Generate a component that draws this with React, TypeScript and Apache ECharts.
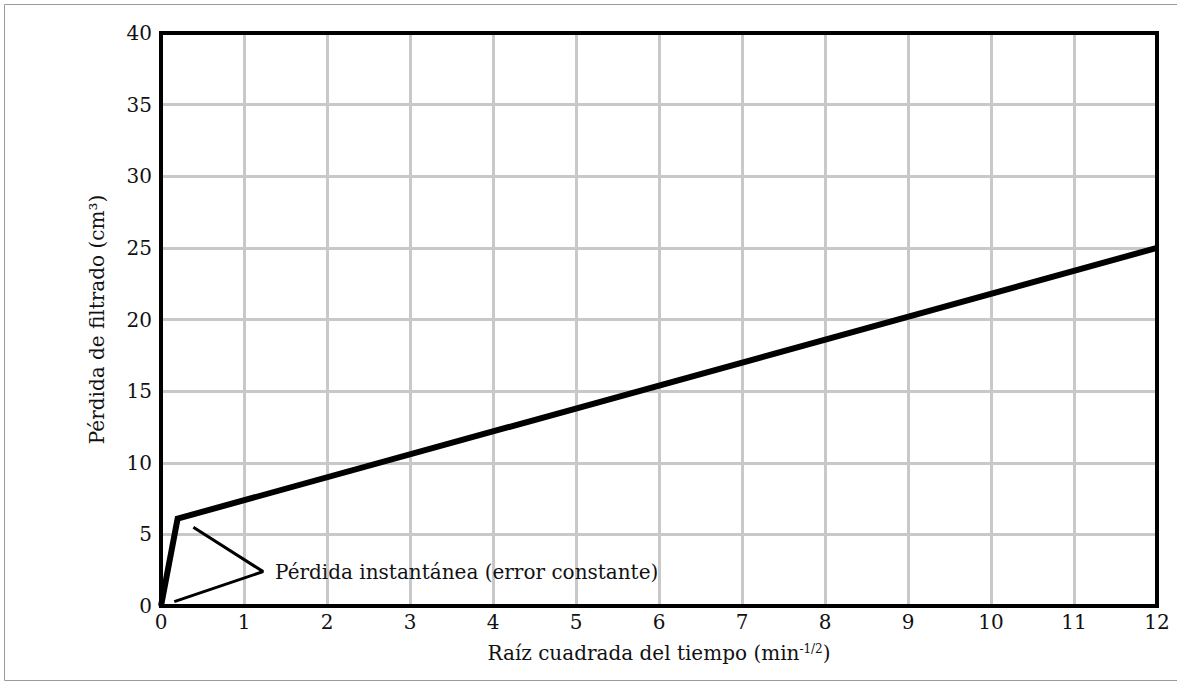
import React, { useEffect, useRef } from "react";
import * as echarts from "echarts";

const xTicks = [0, 1, 2, 3, 4, 5, 6, 7, 8, 9, 10, 11, 12];
const yTicks = [0, 5, 10, 15, 20, 25, 30, 35, 40];
// main filtrate curve: [sqrt(time), filtrate volume]
const filtrateLine: [number, number][] = [
  [0, 0],
  [0.2, 6.1],
  [12, 25],
];
// annotation pointer (V shape)
const pointerLine: [number, number][] = [
  [0.39, 5.5],
  [1.23, 2.4],
  [0.16, 0.3],
];
const annotationText = "Pérdida instantánea (error constante)";
const annotationAnchor: [number, number][] = [[1.23, 2.4]];

const FONT = "DejaVu Serif";
const TXT = "#111";

export default function App() {
  const ref = useRef<HTMLDivElement>(null);
  useEffect(() => {
    if (!ref.current) return;
    const chart = echarts.init(ref.current, undefined, { renderer: "svg" });
    chart.setOption({
      animation: false,
      backgroundColor: "#fff",
      graphic: [
        {
          type: "rect",
          shape: { x: 4.5, y: 4.5, width: 1200, height: 676 },
          style: { fill: "none", stroke: "#9a9a9a", lineWidth: 1 },
          silent: true,
          z: -10,
        },
      ],
      grid: {
        left: 161,
        right: 20,
        top: 33,
        bottom: 76,
        show: true,
        borderColor: "#000",
        borderWidth: 4,
        backgroundColor: "transparent",
        z: 3,
      },
      xAxis: {
        type: "value",
        min: xTicks[0],
        max: xTicks[xTicks.length - 1],
        interval: 1,
        axisLine: { show: false },
        axisTick: { show: false },
        splitLine: { show: true, lineStyle: { color: "#c8c8c8", width: 3 } },
        axisLabel: { color: TXT, fontFamily: FONT, fontSize: 20, margin: 6 },
        name: "Raíz cuadrada del tiempo (min{sup|-1/2})",
        nameLocation: "middle",
        nameGap: 37,
        nameTextStyle: {
          color: TXT,
          fontFamily: FONT,
          fontSize: 20,
          rich: {
            sup: { fontFamily: FONT, fontSize: 12, verticalAlign: "top", color: TXT },
          },
        },
      },
      yAxis: {
        type: "value",
        min: yTicks[0],
        max: yTicks[yTicks.length - 1],
        interval: 5,
        axisLine: { show: false },
        axisTick: { show: false },
        splitLine: { show: true, lineStyle: { color: "#c8c8c8", width: 3 } },
        axisLabel: { color: TXT, fontFamily: FONT, fontSize: 20, margin: 9 },
        name: "Pérdida de filtrado (cm³)",
        nameLocation: "middle",
        nameGap: 54,
        nameTextStyle: { color: TXT, fontFamily: FONT, fontSize: 20 },
      },
      series: [
        {
          type: "line",
          data: filtrateLine,
          symbol: "none",
          lineStyle: { color: "#000", width: 6, join: "miter" },
          z: 5,
        },
        {
          type: "line",
          data: pointerLine,
          symbol: "none",
          lineStyle: { color: "#000", width: 3 },
          z: 5,
        },
        {
          type: "scatter",
          data: annotationAnchor,
          symbolSize: 0,
          itemStyle: { opacity: 1, color: "#000" },
          label: {
            show: true,
            position: "right",
            distance: 12,
            formatter: annotationText,
            color: TXT,
            opacity: 1,
            fontFamily: FONT,
            fontSize: 20,
          },
          z: 5,
        },
      ],
    });
    return () => chart.dispose();
  }, []);
  return (
    <div
      ref={ref}
      style={{ position: "fixed", left: 0, top: 0, width: 1177, height: 682 }}
    />
  );
}
